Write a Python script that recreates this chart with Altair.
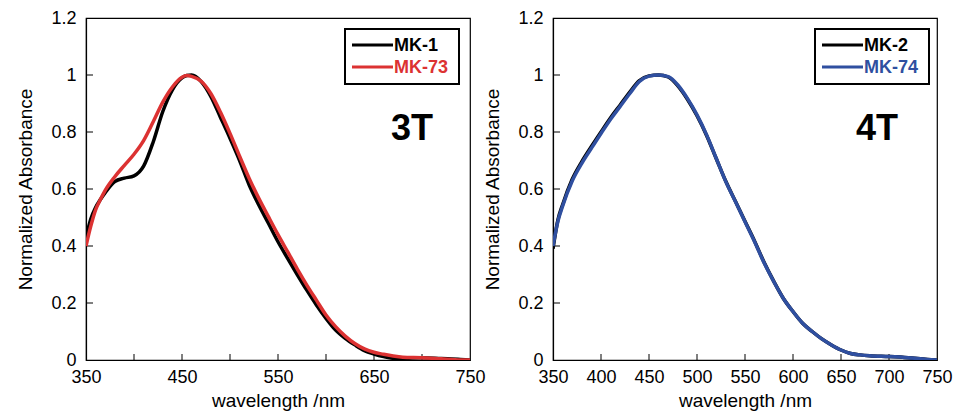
import altair as alt
import pandas as pd

# ---------------- data ----------------
wl_3t = [350, 355, 360, 365, 370, 380, 390, 400, 410, 420, 430, 440, 450, 455, 460, 470, 480,
         490, 500, 510, 520, 530, 540, 550, 560, 570, 580, 590, 600, 610, 620, 630,
         640, 650, 660, 670, 680, 700, 720, 740, 750]
mk1 = [0.43, 0.495, 0.535, 0.563, 0.587, 0.626, 0.638, 0.646, 0.68, 0.765, 0.872, 0.948, 0.99, 0.998, 1.0, 0.977, 0.925,
       0.852, 0.778, 0.70, 0.614, 0.544, 0.48, 0.415, 0.357, 0.30, 0.245, 0.193, 0.146, 0.105, 0.076, 0.053,
       0.033, 0.021, 0.012, 0.006, 0.006, 0.008, 0.005, 0.002, 0.0]
mk73 = [0.40, 0.47, 0.527, 0.563, 0.595, 0.643, 0.683, 0.722, 0.77, 0.836, 0.905, 0.958, 0.992, 0.998, 0.995, 0.978, 0.935,
        0.87, 0.795, 0.715, 0.637, 0.567, 0.503, 0.44, 0.38, 0.32, 0.263, 0.21, 0.158, 0.117, 0.084, 0.058,
        0.039, 0.027, 0.02, 0.014, 0.01, 0.008, 0.004, 0.0, -0.002]

wl_4t = [350, 355, 360, 370, 380, 390, 400, 410, 420, 430, 440, 450, 460, 470, 480,
         490, 500, 510, 520, 530, 540, 550, 560, 570, 580, 590, 600, 610, 620, 630,
         640, 650, 660, 670, 680, 700, 720, 740, 750]
mk2 = [0.39, 0.49, 0.545, 0.634, 0.696, 0.749, 0.80, 0.85, 0.895, 0.94, 0.98, 0.997, 1.0, 0.993, 0.962,
       0.915, 0.857, 0.788, 0.707, 0.627, 0.557, 0.487, 0.417, 0.342, 0.276, 0.216, 0.17, 0.129, 0.10, 0.074,
       0.053, 0.035, 0.023, 0.018, 0.015, 0.012, 0.008, 0.002, 0.0]
mk74 = [0.40, 0.485, 0.54, 0.628, 0.69, 0.743, 0.795, 0.845, 0.89, 0.935, 0.977, 0.996, 1.0, 0.994, 0.965,
        0.918, 0.86, 0.79, 0.708, 0.626, 0.556, 0.485, 0.415, 0.34, 0.275, 0.216, 0.17, 0.129, 0.10, 0.074,
        0.053, 0.035, 0.023, 0.018, 0.015, 0.012, 0.008, 0.002, -0.002]

series_3t = ["MK-1", "MK-73"]
series_4t = ["MK-2", "MK-74"]
colors_3t = ["#000000", "#dc3232"]
colors_4t = ["#000000", "#2f4fa0"]
labels_3t = [350, 450, 550, 650, 750]
labels_4t = [350, 400, 450, 500, 550, 600, 650, 700, 750]
x_ticks = [400, 450, 500, 550, 600, 650, 700]
y_ticks = [0.2, 0.4, 0.6, 0.8, 1.0]
y_labels = [0, 0.2, 0.4, 0.6, 0.8, 1, 1.2]

W, H = 384, 342
FONT = "Liberation Sans"


def make_panel(wl, ya, yb, names, colors, xlabels, tag, box_x, line_x, tag_x):
    df = pd.DataFrame({
        "wavelength": wl * 2,
        "absorbance": ya + yb,
        "sample": [names[0]] * len(wl) + [names[1]] * len(wl),
    })
    xs = alt.Scale(domain=[350, 750], nice=False, clamp=True)
    ys = alt.Scale(domain=[0, 1.2], nice=False, clamp=True)
    xax = alt.Axis(values=xlabels, title="wavelength /nm", format="d")
    yax = alt.Axis(values=y_labels, title="Normalized Absorbance", format="~g")

    lines = alt.Chart(df).mark_line(strokeWidth=3.5, interpolate="monotone", clip=True).encode(
        x=alt.X("wavelength:Q", scale=xs, axis=xax),
        y=alt.Y("absorbance:Q", scale=ys, axis=yax),
        color=alt.Color("sample:N", scale=alt.Scale(domain=names, range=colors), legend=None),
    )

    xt = alt.Chart(pd.DataFrame({"wavelength": x_ticks})).mark_rule(color="black", strokeWidth=1).encode(
        x=alt.X("wavelength:Q", scale=xs, axis=xax), y=alt.value(H), y2=alt.value(H - 6))
    yt = alt.Chart(pd.DataFrame({"absorbance": y_ticks})).mark_rule(color="black", strokeWidth=1).encode(
        y=alt.Y("absorbance:Q", scale=ys, axis=yax), x=alt.value(0), x2=alt.value(7))

    one = pd.DataFrame({"a": [0]})
    box = alt.Chart(one).mark_rect(fill="white", stroke="black", strokeWidth=2).encode(
        x=alt.value(box_x), x2=alt.value(box_x + 114), y=alt.value(11), y2=alt.value(66))
    layers = [xt, yt, lines, box]
    for i, (nm, col) in enumerate(zip(names, colors)):
        yy = 27 + i * 22
        layers.append(alt.Chart(one).mark_rule(color=col, strokeWidth=3).encode(
            x=alt.value(line_x), x2=alt.value(line_x + 41), y=alt.value(yy)))
        layers.append(alt.Chart(one).mark_text(
            text=nm, color=col, font=FONT, fontSize=18, fontWeight="bold",
            align="left", baseline="middle").encode(x=alt.value(line_x + 42), y=alt.value(yy + 1)))
    layers.append(alt.Chart(one).mark_text(
        text=tag, color="black", font=FONT, fontSize=36, fontWeight="bold",
        align="center", baseline="middle").encode(x=alt.value(tag_x), y=alt.value(111)))
    return alt.layer(*layers).properties(width=W, height=H)


left = make_panel(wl_3t, mk1, mk73, series_3t, colors_3t, labels_3t, "3T", 259, 266, 326)
right = make_panel(wl_4t, mk2, mk74, series_4t, colors_4t, labels_4t, "4T", 262, 269, 324)

chart = alt.hconcat(left, right, spacing=-3).resolve_scale(
    color="independent", x="independent", y="independent"
).properties(
    padding={"left": 8, "top": 0, "right": 0, "bottom": 0}
).configure_view(
    stroke="black", strokeWidth=1.2
).configure_axis(
    domainColor="black", domainWidth=1.2, ticks=False, tickSize=0, grid=False,
    labelFont=FONT, labelFontSize=18, labelColor="black",
    titleFont=FONT, titleFontSize=19, titleFontWeight="normal", titleColor="black",
    labelFlush=False,
).configure_axisX(
    labelPadding=8, titlePadding=5,
).configure_axisY(
    labelPadding=10, titlePadding=15,
)

chart.save("out.html", embed_options={"renderer": "svg", "actions": False})
